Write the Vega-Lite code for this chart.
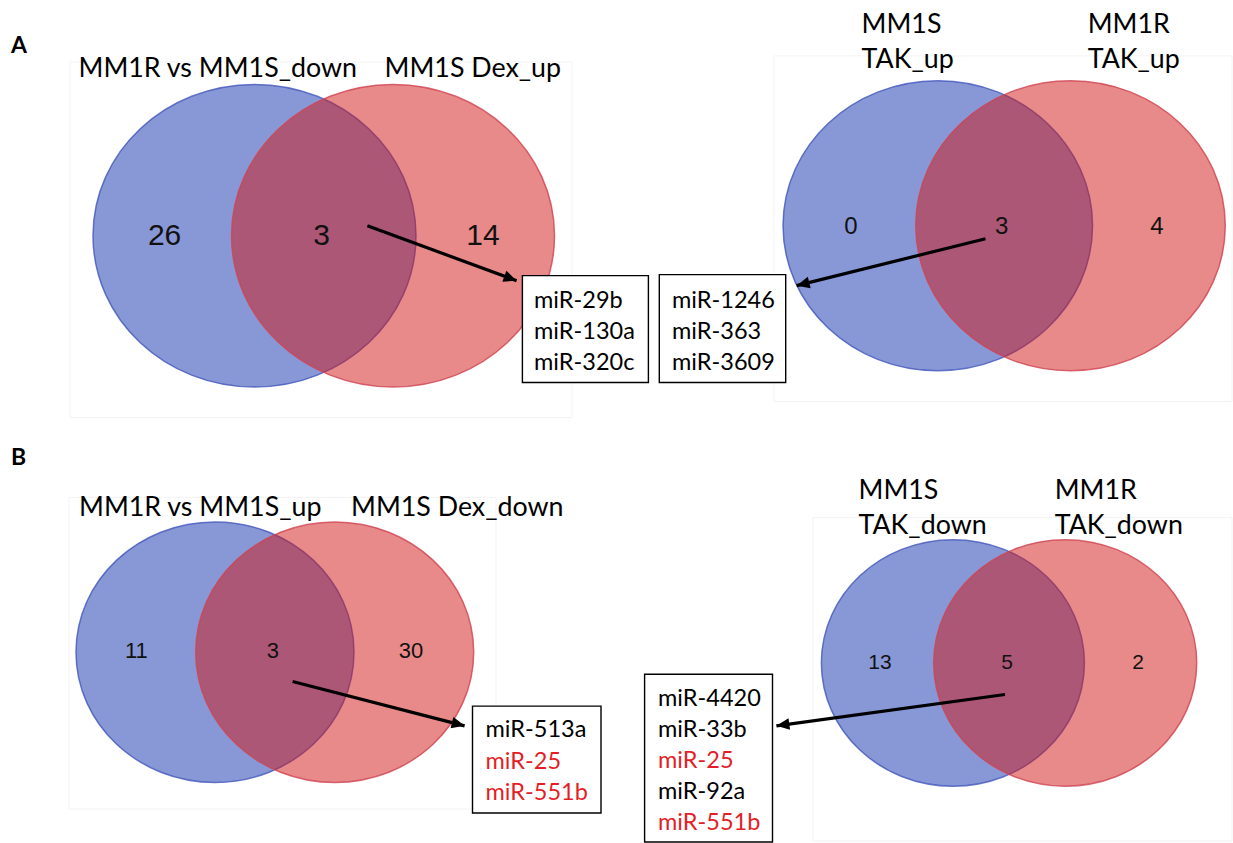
{
  "$schema": "https://vega.github.io/schema/vega-lite/v6.json",
  "width": 1233,
  "height": 843,
  "autosize": {"type": "fit", "contains": "padding"},
  "padding": 0,
  "background": "white",
  "config": {"view": {"stroke": null}},
  "datasets": {
    "frames": [
      {"panel": "A1", "x": 70, "x2": 572, "y": 62, "y2": 418},
      {"panel": "A2", "x": 774, "x2": 1232, "y": 56, "y2": 402},
      {"panel": "B1", "x": 69, "x2": 496, "y": 498, "y2": 810},
      {"panel": "B2", "x": 813, "x2": 1232, "y": 518, "y2": 842}
    ],
    "venn": [
      {"panel": "A1", "set": "left", "x": 254.5, "y": 236},
      {"panel": "A1", "set": "right", "x": 393, "y": 236},
      {"panel": "A2", "set": "left", "x": 937.8, "y": 226},
      {"panel": "A2", "set": "right", "x": 1070.5, "y": 226},
      {"panel": "B1", "set": "left", "x": 215, "y": 653},
      {"panel": "B1", "set": "right", "x": 334.7, "y": 653},
      {"panel": "B2", "set": "left", "x": 952.9, "y": 663.7},
      {"panel": "B2", "set": "right", "x": 1065.2, "y": 663.7}
    ],
    "counts": [
      {"panel": "A1", "n": "26", "x": 164.6, "y": 245},
      {"panel": "A1", "n": "3", "x": 321.5, "y": 245},
      {"panel": "A1", "n": "14", "x": 483, "y": 245},
      {"panel": "A2", "n": "0", "x": 851, "y": 234},
      {"panel": "A2", "n": "3", "x": 1001.7, "y": 234},
      {"panel": "A2", "n": "4", "x": 1157, "y": 234},
      {"panel": "B1", "n": "11", "x": 136.4, "y": 659},
      {"panel": "B1", "n": "3", "x": 272.8, "y": 659},
      {"panel": "B1", "n": "30", "x": 411, "y": 659},
      {"panel": "B2", "n": "13", "x": 880, "y": 670},
      {"panel": "B2", "n": "5", "x": 1007, "y": 670},
      {"panel": "B2", "n": "2", "x": 1138, "y": 670}
    ],
    "titles": [
      {"text": "MM1R vs MM1S_down", "x": 78.5, "y": 77},
      {"text": "MM1S Dex_up", "x": 384.6, "y": 77},
      {"text": "MM1S", "x": 861.6, "y": 33},
      {"text": "TAK_up", "x": 861.6, "y": 68},
      {"text": "MM1R", "x": 1087.7, "y": 33},
      {"text": "TAK_up", "x": 1087.7, "y": 68},
      {"text": "MM1R vs MM1S_up", "x": 79, "y": 517},
      {"text": "MM1S Dex_down", "x": 351, "y": 517},
      {"text": "MM1S", "x": 858.5, "y": 500},
      {"text": "TAK_down", "x": 858.5, "y": 535},
      {"text": "MM1R", "x": 1054.7, "y": 500},
      {"text": "TAK_down", "x": 1054.7, "y": 535}
    ],
    "letters": [
      {"text": "A", "x": 11, "y": 53},
      {"text": "B", "x": 11, "y": 466}
    ],
    "boxes": [
      {"panel": "A1", "x": 522.4, "x2": 648.4, "y": 276, "y2": 383},
      {"panel": "A2", "x": 659.3, "x2": 785.7, "y": 275, "y2": 383},
      {"panel": "B1", "x": 472.5, "x2": 601, "y": 707, "y2": 814},
      {"panel": "B2", "x": 644.6, "x2": 772.5, "y": 675, "y2": 843}
    ],
    "mirs": [
      {"panel": "A1", "name": "miR-29b", "tone": "plain", "x": 534, "y": 308},
      {"panel": "A1", "name": "miR-130a", "tone": "plain", "x": 534, "y": 339},
      {"panel": "A1", "name": "miR-320c", "tone": "plain", "x": 534, "y": 370},
      {"panel": "A2", "name": "miR-1246", "tone": "plain", "x": 672, "y": 308},
      {"panel": "A2", "name": "miR-363", "tone": "plain", "x": 672, "y": 339},
      {"panel": "A2", "name": "miR-3609", "tone": "plain", "x": 672, "y": 370},
      {"panel": "B1", "name": "miR-513a", "tone": "plain", "x": 485.5, "y": 738},
      {"panel": "B1", "name": "miR-25", "tone": "shared", "x": 485.5, "y": 770},
      {"panel": "B1", "name": "miR-551b", "tone": "shared", "x": 485.5, "y": 801},
      {"panel": "B2", "name": "miR-4420", "tone": "plain", "x": 658, "y": 707},
      {"panel": "B2", "name": "miR-33b", "tone": "plain", "x": 658, "y": 738},
      {"panel": "B2", "name": "miR-25", "tone": "shared", "x": 658, "y": 769},
      {"panel": "B2", "name": "miR-92a", "tone": "plain", "x": 658, "y": 800},
      {"panel": "B2", "name": "miR-551b", "tone": "shared", "x": 658, "y": 831}
    ],
    "arrows": [
      {"panel": "A1", "x": 367.4, "y": 226, "x2": 516.6, "y2": 281},
      {"panel": "A2", "x": 985.5, "y": 239, "x2": 796.6, "y2": 286},
      {"panel": "B1", "x": 292.6, "y": 682.3, "x2": 464.6, "y2": 726.7},
      {"panel": "B2", "x": 1005, "y": 695.3, "x2": 776.4, "y2": 726.7}
    ]
  },
  "encoding": {
    "x": {"field": "x", "type": "quantitative", "scale": {"domain": [0, 1233], "nice": false, "zero": false}, "axis": null},
    "y": {"field": "y", "type": "quantitative", "scale": {"domain": [0, 843], "nice": false, "zero": false, "reverse": true}, "axis": null}
  },
  "layer": [
    {
      "data": {"name": "frames"},
      "mark": {"type": "rect", "fill": null, "stroke": "#f3f3f3", "strokeWidth": 1},
      "encoding": {"x2": {"field": "x2"}, "y2": {"field": "y2"}}
    },
    {
      "data": {"name": "venn"},
      "transform": [{"filter": "datum.panel === 'A1'"}],
      "mark": {"type": "point", "filled": true, "opacity": 1, "fillOpacity": 0.5, "strokeWidth": 1.5, "strokeOpacity": 0.8, "size": 104329,
        "shape": "M-1,0C-1,-0.5175,-0.5523,-0.937,0,-0.937C0.5523,-0.937,1,-0.5175,1,0C1,0.5175,0.5523,0.937,0,0.937C-0.5523,0.937,-1,0.5175,-1,0Z"},
      "encoding": {
        "color": {"field": "set", "type": "nominal", "scale": {"domain": ["left", "right", "plain", "shared"], "range": ["#1131ad", "#d11515", "#000000", "#e41e26"]}, "legend": null},
        "stroke": {"field": "set", "type": "nominal", "scale": {"domain": ["left", "right"], "range": ["#4357bd", "#cf4452"]}, "legend": null}
      }
    },
    {
      "data": {"name": "venn"},
      "transform": [{"filter": "datum.panel === 'A2'"}],
      "mark": {"type": "point", "filled": true, "opacity": 1, "fillOpacity": 0.5, "strokeWidth": 1.5, "strokeOpacity": 0.8, "size": 95790,
        "shape": "M-1,0C-1,-0.5175,-0.5523,-0.937,0,-0.937C0.5523,-0.937,1,-0.5175,1,0C1,0.5175,0.5523,0.937,0,0.937C-0.5523,0.937,-1,0.5175,-1,0Z"},
      "encoding": {
        "color": {"field": "set", "type": "nominal", "scale": {"domain": ["left", "right", "plain", "shared"], "range": ["#1131ad", "#d11515", "#000000", "#e41e26"]}, "legend": null},
        "stroke": {"field": "set", "type": "nominal", "scale": {"domain": ["left", "right"], "range": ["#4357bd", "#cf4452"]}, "legend": null}
      }
    },
    {
      "data": {"name": "venn"},
      "transform": [{"filter": "datum.panel === 'B1'"}],
      "mark": {"type": "point", "filled": true, "opacity": 1, "fillOpacity": 0.5, "strokeWidth": 1.5, "strokeOpacity": 0.8, "size": 77284,
        "shape": "M-1,0C-1,-0.5175,-0.5523,-0.937,0,-0.937C0.5523,-0.937,1,-0.5175,1,0C1,0.5175,0.5523,0.937,0,0.937C-0.5523,0.937,-1,0.5175,-1,0Z"},
      "encoding": {
        "color": {"field": "set", "type": "nominal", "scale": {"domain": ["left", "right", "plain", "shared"], "range": ["#1131ad", "#d11515", "#000000", "#e41e26"]}, "legend": null},
        "stroke": {"field": "set", "type": "nominal", "scale": {"domain": ["left", "right"], "range": ["#4357bd", "#cf4452"]}, "legend": null}
      }
    },
    {
      "data": {"name": "venn"},
      "transform": [{"filter": "datum.panel === 'B2'"}],
      "mark": {"type": "point", "filled": true, "opacity": 1, "fillOpacity": 0.5, "strokeWidth": 1.5, "strokeOpacity": 0.8, "size": 69169,
        "shape": "M-1,0C-1,-0.5175,-0.5523,-0.937,0,-0.937C0.5523,-0.937,1,-0.5175,1,0C1,0.5175,0.5523,0.937,0,0.937C-0.5523,0.937,-1,0.5175,-1,0Z"},
      "encoding": {
        "color": {"field": "set", "type": "nominal", "scale": {"domain": ["left", "right", "plain", "shared"], "range": ["#1131ad", "#d11515", "#000000", "#e41e26"]}, "legend": null},
        "stroke": {"field": "set", "type": "nominal", "scale": {"domain": ["left", "right"], "range": ["#4357bd", "#cf4452"]}, "legend": null}
      }
    },
    {
      "data": {"name": "counts"},
      "transform": [{"filter": "datum.panel === 'A1'"}],
      "mark": {"type": "text", "font": "Liberation Sans", "fontSize": 30, "align": "center", "baseline": "alphabetic", "color": "#111111"},
      "encoding": {"text": {"field": "n"}}
    },
    {
      "data": {"name": "counts"},
      "transform": [{"filter": "datum.panel === 'A2'"}],
      "mark": {"type": "text", "font": "Liberation Sans", "fontSize": 24, "align": "center", "baseline": "alphabetic", "color": "#111111"},
      "encoding": {"text": {"field": "n"}}
    },
    {
      "data": {"name": "counts"},
      "transform": [{"filter": "datum.panel === 'B1'"}],
      "mark": {"type": "text", "font": "Liberation Sans", "fontSize": 22, "align": "center", "baseline": "alphabetic", "color": "#111111"},
      "encoding": {"text": {"field": "n"}}
    },
    {
      "data": {"name": "counts"},
      "transform": [{"filter": "datum.panel === 'B2'"}],
      "mark": {"type": "text", "font": "Liberation Sans", "fontSize": 21, "align": "center", "baseline": "alphabetic", "color": "#111111"},
      "encoding": {"text": {"field": "n"}}
    },
    {
      "data": {"name": "titles"},
      "mark": {"type": "text", "font": "Lato", "fontSize": 26.8, "align": "left", "baseline": "alphabetic", "color": "#000000"},
      "encoding": {"text": {"field": "text"}}
    },
    {
      "data": {"name": "letters"},
      "mark": {"type": "text", "font": "Lato", "fontSize": 23, "fontWeight": "bold", "align": "left", "baseline": "alphabetic", "color": "#000000"},
      "encoding": {"text": {"field": "text"}}
    },
    {
      "data": {"name": "boxes"},
      "mark": {"type": "rect", "fill": "white", "stroke": "#000000", "strokeWidth": 1.4},
      "encoding": {"x2": {"field": "x2"}, "y2": {"field": "y2"}}
    },
    {
      "data": {"name": "mirs"},
      "mark": {"type": "text", "font": "Lato", "fontSize": 23.5, "align": "left", "baseline": "alphabetic"},
      "encoding": {
        "text": {"field": "name"},
        "color": {"field": "tone", "type": "nominal", "scale": {"domain": ["left", "right", "plain", "shared"], "range": ["#1131ad", "#d11515", "#000000", "#e41e26"]}, "legend": null}
      }
    },
    {
      "data": {"name": "arrows"},
      "mark": {"type": "rule", "color": "#000000", "strokeWidth": 3.2, "strokeCap": "butt"},
      "encoding": {"x2": {"field": "x2"}, "y2": {"field": "y2"}}
    },
    {
      "data": {"name": "arrows"},
      "transform": [{"filter": "datum.panel === 'A1'"}],
      "mark": {"type": "point", "filled": true, "opacity": 1, "color": "#000000", "size": 169, "angle": 20.2, "shape": "M0,0L-2,-0.9L-2,0.9Z"},
      "encoding": {"x": {"field": "x2", "type": "quantitative"}, "y": {"field": "y2", "type": "quantitative"}}
    },
    {
      "data": {"name": "arrows"},
      "transform": [{"filter": "datum.panel === 'A2'"}],
      "mark": {"type": "point", "filled": true, "opacity": 1, "color": "#000000", "size": 169, "angle": 166, "shape": "M0,0L-2,-0.9L-2,0.9Z"},
      "encoding": {"x": {"field": "x2", "type": "quantitative"}, "y": {"field": "y2", "type": "quantitative"}}
    },
    {
      "data": {"name": "arrows"},
      "transform": [{"filter": "datum.panel === 'B1'"}],
      "mark": {"type": "point", "filled": true, "opacity": 1, "color": "#000000", "size": 169, "angle": 14.5, "shape": "M0,0L-2,-0.9L-2,0.9Z"},
      "encoding": {"x": {"field": "x2", "type": "quantitative"}, "y": {"field": "y2", "type": "quantitative"}}
    },
    {
      "data": {"name": "arrows"},
      "transform": [{"filter": "datum.panel === 'B2'"}],
      "mark": {"type": "point", "filled": true, "opacity": 1, "color": "#000000", "size": 169, "angle": 172.2, "shape": "M0,0L-2,-0.9L-2,0.9Z"},
      "encoding": {"x": {"field": "x2", "type": "quantitative"}, "y": {"field": "y2", "type": "quantitative"}}
    }
  ]
}
